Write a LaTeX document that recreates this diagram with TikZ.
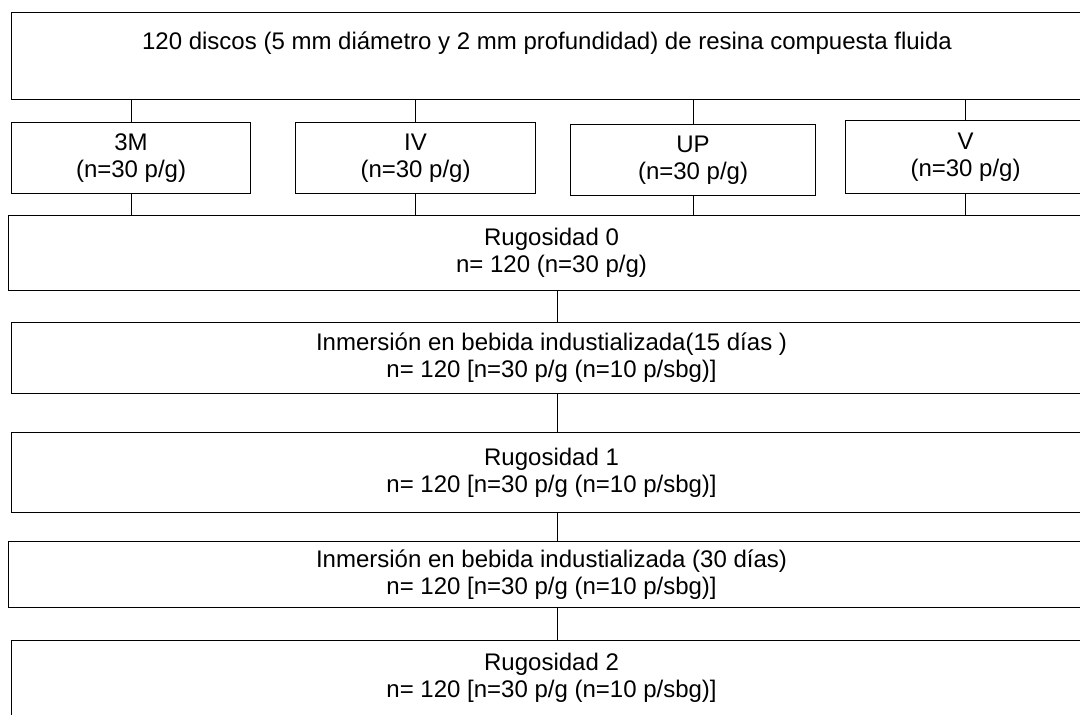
\documentclass[tikz,border=0pt]{standalone}
\usepackage{fontspec}
\setmainfont{Liberation Sans}
\begin{document}
\begin{tikzpicture}[x=1pt,y=-1pt,
  box/.style={draw, line width=1.1pt, rectangle, inner sep=0pt, align=center, anchor=north west,
    font=\fontsize{24}{27}\selectfont},
  lbl/.style={inner sep=0pt, font=\fontsize{24}{27}\selectfont},
  wire/.style={line width=1.1pt}]
\useasboundingbox (0,0) rectangle (1080,715);
\clip (0,0) rectangle (1080,715);
\fill[white] (0,0) rectangle (1080,715);
\node[box, minimum width=1100pt, minimum height=87pt] (top) at (11,12) {};
\node[lbl] (toptext) at (547,43) {120 discos (5 mm diámetro y 2 mm profundidad) de resina compuesta fluida};
\node[box, minimum width=239pt, minimum height=71pt] (g1) at (11,122) {3M\\(n=30 p/g)};
\node[box, minimum width=240pt, minimum height=71pt] (g2) at (295,122) {IV\\(n=30 p/g)};
\node[box, minimum width=245pt, minimum height=71pt] (g3) at (570,124) {UP\\(n=30 p/g)};
\node[box, minimum width=240pt, minimum height=73pt] (g4) at (845,120) {V\\(n=30 p/g)};
\node[box, minimum width=1086pt, minimum height=75pt] (r0) at (8,215) {Rugosidad 0\\n= 120 (n=30 p/g)};
\node[box, minimum width=1080pt, minimum height=71pt] (i15) at (11,322) {Inmersión en bebida industializada(15 días )\\n= 120 [n=30 p/g (n=10 p/sbg)]};
\node[box, minimum width=1080pt, minimum height=80pt] (r1) at (11,432) {Rugosidad 1\\n= 120 [n=30 p/g (n=10 p/sbg)]};
\node[box, minimum width=1086pt, minimum height=66pt] (i30) at (8,541) {Inmersión en bebida industializada (30 días)\\n= 120 [n=30 p/g (n=10 p/sbg)]};
\node[box, minimum width=1080pt, minimum height=90pt, text depth=20pt] (r2) at (11,640) {Rugosidad 2\\n= 120 [n=30 p/g (n=10 p/sbg)]};
\foreach \g in {g1,g2,g3,g4}{
  \draw[wire] (\g.north) -- (\g.north |- top.south);
  \draw[wire] (\g.south) -- (\g.south |- r0.north);
}
\draw[wire] ([xshift=6pt]r0.south) -- ([xshift=6pt]i15.north);
\draw[wire] ([xshift=6pt]i15.south) -- ([xshift=6pt]r1.north);
\draw[wire] ([xshift=6pt]r1.south) -- ([xshift=6pt]i30.north);
\draw[wire] ([xshift=6pt]i30.south) -- ([xshift=6pt]r2.north);
\end{tikzpicture}
\end{document}
